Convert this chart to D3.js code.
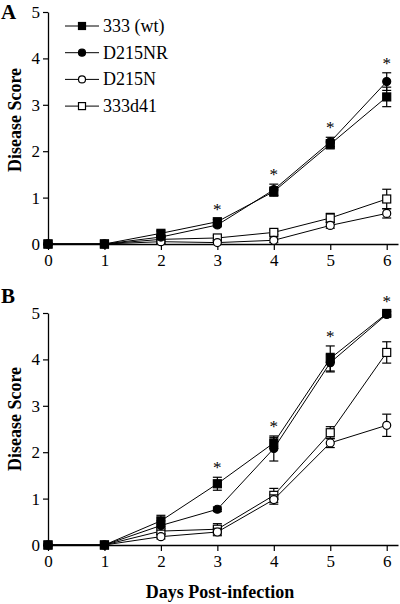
<!DOCTYPE html>
<html><head><meta charset="utf-8">
<script src="https://cdn.jsdelivr.net/npm/d3@7"></script>
<style>
html,body{margin:0;padding:0;background:#fff;}
svg{display:block;font-family:"Liberation Serif","Times New Roman",serif;}
</style></head>
<body><svg id="c" width="400" height="604"></svg>
<script>
const days = [0,1,2,3,4,5,6];
const seriesNames = ["333 (wt)","D215NR","D215N","333d41"];
const yTicks = [0,1,2,3,4,5];
const xTicks = [0,1,2,3,4,5,6];

// Panel A
const aWt = [0,0,0.23,0.48,1.13,2.15,3.17];
const aWtErr = [0,0,0.05,0.05,0.1,0.1,0.21];
const aD215NR = [0,0,0.15,0.41,1.17,2.2,3.5];
const aD215NRErr = [0,0,0.04,0.04,0.12,0.1,0.19];
const aD215N = [0,0,0.05,0.03,0.08,0.4,0.66];
const aD215NErr = [0,0,0.04,0.04,0.05,0.06,0.1];
const aD41 = [0,0,0.1,0.13,0.25,0.56,0.97];
const aD41Err = [0,0,0.04,0.05,0.05,0.1,0.21];
const aStarDays = [3,4,5,6];

// Panel B
const bWt = [0,0,0.52,1.32,2.2,4.02,4.99];
const bWtErr = [0,0,0.12,0.14,0.12,0.27,0.05];
const bD215NR = [0,0,0.42,0.77,2.08,3.93,4.97];
const bD215NRErr = [0,0,0.1,0.05,0.27,0.2,0.05];
const bD215N = [0,0,0.18,0.28,0.98,2.2,2.58];
const bD215NErr = [0,0,0.05,0.08,0.1,0.1,0.24];
const bD41 = [0,0,0.3,0.34,1.07,2.42,4.15];
const bD41Err = [0,0,0.06,0.12,0.15,0.13,0.23];
const bStarDays = [3,4,5,6];

const styles = [
  {shape:"square", fill:"#000"},
  {shape:"circle", fill:"#000"},
  {shape:"circle", fill:"#fff"},
  {shape:"square", fill:"#fff"}
];

const svg = d3.select("#c");
const FF = "Liberation Serif, Times New Roman, serif";

function drawPanel(opts){
  const g = svg.append("g");
  const x = d3.scaleLinear().domain([0,6.2]).range([48,398]);
  const y = d3.scaleLinear().domain([0,5]).range([opts.y0, opts.y0 - 232]);

  const ya = g.append("g").attr("transform","translate(48,0)")
    .call(d3.axisLeft(y).tickValues(yTicks).tickFormat(d3.format("d")).tickSize(5).tickPadding(3).tickSizeOuter(0));
  ya.select(".domain").attr("stroke-width",1.3);
  ya.selectAll(".tick line").attr("stroke-width",1.2);
  ya.selectAll("text").attr("font-size",17).attr("font-family",FF).attr("fill","#000");
  const xa = g.append("g").attr("transform",`translate(0,${opts.y0})`)
    .call(d3.axisBottom(x).tickValues(xTicks).tickFormat(d3.format("d")).tickSize(6).tickPadding(4).tickSizeOuter(0));
  xa.select(".domain").attr("stroke-width",1.3);
  xa.selectAll(".tick line").attr("stroke-width",1.2);
  xa.selectAll("text").attr("font-size",17).attr("font-family",FF).attr("fill","#000");

  g.append("text").attr("transform",`translate(21,${opts.labelY}) rotate(-90)`)
    .attr("text-anchor","middle").attr("font-size",18).attr("font-weight","bold").attr("fill","#000").text("Disease Score");
  g.append("text").attr("x",1).attr("y",opts.letterY).attr("font-size",21).attr("font-weight","bold").attr("fill","#000").text(opts.letter);

  const line = d3.line().x((d,i)=>x(days[i])).y(d=>y(d));
  const order = [3,2,1,0];
  order.forEach(si=>{
    g.append("path").attr("d",line(opts.series[si])).attr("fill","none").attr("stroke","#000").attr("stroke-width",1);
  });
  order.forEach(si=>{
    const vals = opts.series[si], errs = opts.errs[si];
    vals.forEach((v,i)=>{
      const e = errs[i];
      if(e>0){
        const cx = x(days[i]);
        g.append("line").attr("x1",cx).attr("x2",cx).attr("y1",y(v-e)).attr("y2",y(v+e)).attr("stroke","#000").attr("stroke-width",1.2);
        [v-e,v+e].forEach(t=>g.append("line").attr("x1",cx-4.5).attr("x2",cx+4.5).attr("y1",y(t)).attr("y2",y(t)).attr("stroke","#000").attr("stroke-width",1.2));
      }
    });
    vals.forEach((v,i)=>marker(g, x(days[i]), y(v), styles[si], 8));
  });
  opts.stars.forEach(d=>{
    const i = days.indexOf(d);
    const top = d3.max(opts.series.map((s,si)=>s[i]+opts.errs[si][i]));
    g.append("text").attr("x",x(d)).attr("y",y(top)-4).attr("text-anchor","middle").attr("font-size",17).attr("fill","#000").text("*");
  });
}

function marker(g,cx,cy,st,size){
  if(st.shape==="square"){
    g.append("rect").attr("x",cx-size/2).attr("y",cy-size/2).attr("width",size).attr("height",size)
      .attr("fill",st.fill).attr("stroke","#000").attr("stroke-width",1.2);
  } else {
    g.append("circle").attr("cx",cx).attr("cy",cy).attr("r",size/2)
      .attr("fill",st.fill).attr("stroke","#000").attr("stroke-width",1.2);
  }
}

drawPanel({y0:244, labelY:120, letter:"A", letterY:19,
  series:[aWt,aD215NR,aD215N,aD41], errs:[aWtErr,aD215NRErr,aD215NErr,aD41Err], stars:aStarDays});
drawPanel({y0:545, labelY:419, letter:"B", letterY:303,
  series:[bWt,bD215NR,bD215N,bD41], errs:[bWtErr,bD215NRErr,bD215NErr,bD41Err], stars:bStarDays});

const leg = svg.append("g");
seriesNames.forEach((n,i)=>{
  const ly = 26 + i*26.7;
  leg.append("line").attr("x1",65).attr("x2",99).attr("y1",ly).attr("y2",ly).attr("stroke","#000").attr("stroke-width",1);
  marker(leg,82,ly,styles[i],7);
  leg.append("text").attr("x",103).attr("y",ly+6).attr("font-size",18).attr("fill","#000").text(n);
});

svg.append("text").attr("x",220).attr("y",598).attr("text-anchor","middle").attr("font-size",18).attr("font-weight","bold").attr("fill","#000").text("Days Post-infection");
</script></body></html>
